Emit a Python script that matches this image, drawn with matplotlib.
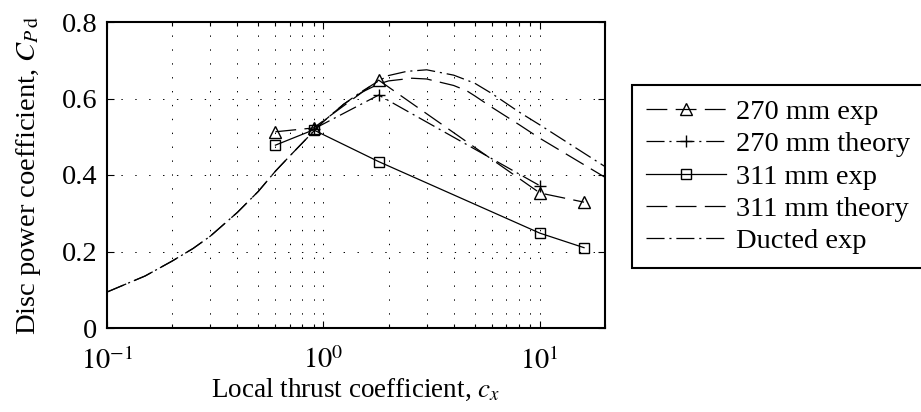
import matplotlib
matplotlib.use("Agg")
import matplotlib.pyplot as plt
from matplotlib.lines import Line2D
from matplotlib.ticker import FixedLocator, LogLocator, NullFormatter

plt.rcParams['font.family'] = ['Liberation Serif', 'DejaVu Serif']
plt.rcParams['mathtext.fontset'] = 'stix'
plt.rcParams['lines.scale_dashes'] = False

# ---- data ----
# Ducted experiment curve
ducted_x = [0.1, 0.15, 0.2, 0.25, 0.3, 0.4, 0.5, 0.6, 0.7, 0.8, 0.9, 1.0, 1.24, 1.5,
            1.8, 2.0, 2.43, 3.0, 4.0, 5.0, 6.0, 8.0, 10.0, 20.0]
ducted_y = [0.094, 0.136, 0.175, 0.208, 0.240, 0.302, 0.357, 0.410, 0.450, 0.484, 0.514,
            0.540, 0.585, 0.618, 0.646, 0.660, 0.671, 0.675, 0.661, 0.640, 0.613,
            0.565, 0.531, 0.422]
# 311 mm theory curve
th311_x = [0.1, 0.15, 0.2, 0.25, 0.3, 0.4, 0.5, 0.6, 0.7, 0.8, 0.9, 1.0, 1.24, 1.5,
           1.8, 2.0, 2.56, 3.0, 4.0, 4.6, 5.0, 6.0, 8.0, 10.0, 20.0]
th311_y = [0.094, 0.136, 0.175, 0.208, 0.240, 0.302, 0.357, 0.410, 0.450, 0.484, 0.514,
           0.540, 0.585, 0.616, 0.638, 0.646, 0.653, 0.651, 0.634, 0.620, 0.607,
           0.577, 0.532, 0.496, 0.394]
# 270 mm experiment
exp270_x = [0.6, 0.9, 1.8, 10.0, 16.0]
exp270_y = [0.513, 0.523, 0.648, 0.353, 0.329]
# 270 mm theory
th270_x = [0.9, 1.8, 10.0]
th270_y = [0.520, 0.609, 0.372]
# 311 mm experiment
exp311_x = [0.6, 0.9, 1.8, 10.0, 16.0]
exp311_y = [0.478, 0.518, 0.435, 0.248, 0.210]

labels = ['270 mm exp', '270 mm theory', '311 mm exp', '311 mm theory', 'Ducted exp']
yticks = [0, 0.2, 0.4, 0.6, 0.8]
yticklabels = ['0', '0.2', '0.4', '0.6', '0.8']
xticks = [0.1, 1, 10]
xticklabels = [r'$10^{-1}$', r'$10^{0}$', r'$10^{1}$']

FS = 20.5
W, H = 921, 412
fig = plt.figure(figsize=(W / 100, H / 100), dpi=100)
ax = fig.add_axes([107 / W, 1 - 328 / H, (605 - 107) / W, (328 - 22) / H])

lw = 0.9
dash = (0, (15, 6))
dashdot = (0, (13, 3.5, 1.5, 3.5))

ax.plot(ducted_x, ducted_y, color='k', lw=lw, linestyle=dashdot)
ax.plot(th311_x, th311_y, color='k', lw=lw, linestyle=dash)
ax.plot(th270_x, th270_y, color='k', lw=lw, linestyle=dashdot,
        marker='+', ms=8, mew=1.0)
ax.plot(exp311_x, exp311_y, color='k', lw=lw, linestyle='-',
        marker='s', ms=6.7, mfc='none', mew=1.0)
ax.plot(exp270_x, exp270_y, color='k', lw=lw, linestyle=dash,
        marker='^', ms=9, mfc='none', mew=1.0)

ax.set_xscale('log')
ax.set_xlim(0.1, 20)
ax.set_ylim(0, 0.8)
ax.xaxis.set_major_locator(FixedLocator(xticks))
ax.set_xticklabels(xticklabels)
ax.xaxis.set_minor_locator(LogLocator(base=10, subs=[2, 3, 4, 5, 6, 7, 8, 9]))
ax.xaxis.set_minor_formatter(NullFormatter())
ax.set_yticks(yticks)
ax.set_yticklabels(yticklabels)

ax.tick_params(which='both', direction='in', top=True, right=True,
               labelsize=FS, width=0.8)
ax.tick_params(which='major', length=5)
ax.tick_params(which='minor', length=3)
ax.tick_params(axis='x', pad=14)
ax.tick_params(axis='y', pad=7)

grid_ls = (0, (1, 9))
ax.grid(True, which='major', axis='both', color='k', lw=0.7, linestyle=grid_ls)
ax.grid(True, which='minor', axis='x', color='k', lw=0.7, linestyle=grid_ls)
for s in ax.spines.values():
    s.set_linewidth(1.5)

ax.set_xlabel(r'Local thrust coefficient, $c_x$', fontsize=19.5, labelpad=1.5)
ax.set_ylabel(r'Disc power coefficient, $C_{P\,\mathrm{d}}$', fontsize=FS, labelpad=13)

handles = [
    Line2D([], [], color='k', lw=lw, linestyle=dash, marker='^', ms=9, mfc='none', mew=1.0),
    Line2D([], [], color='k', lw=lw, linestyle=dashdot, marker='+', ms=8, mew=1.0),
    Line2D([], [], color='k', lw=lw, linestyle='-', marker='s', ms=6.7, mfc='none', mew=1.0),
    Line2D([], [], color='k', lw=lw, linestyle=dash),
    Line2D([], [], color='k', lw=lw, linestyle=dashdot),
]
leg = fig.legend(handles, labels, loc='upper left',
                 bbox_to_anchor=(631.7 / W, 1 - 85 / H), borderaxespad=0,
                 fontsize=FS, numpoints=1, handlelength=2.8, handletextpad=0.35,
                 labelspacing=0.22, borderpad=0.5, fancybox=False,
                 edgecolor='k', framealpha=1)
leg.get_frame().set_linewidth(1.5)

fig.savefig('out.png', dpi=100)
